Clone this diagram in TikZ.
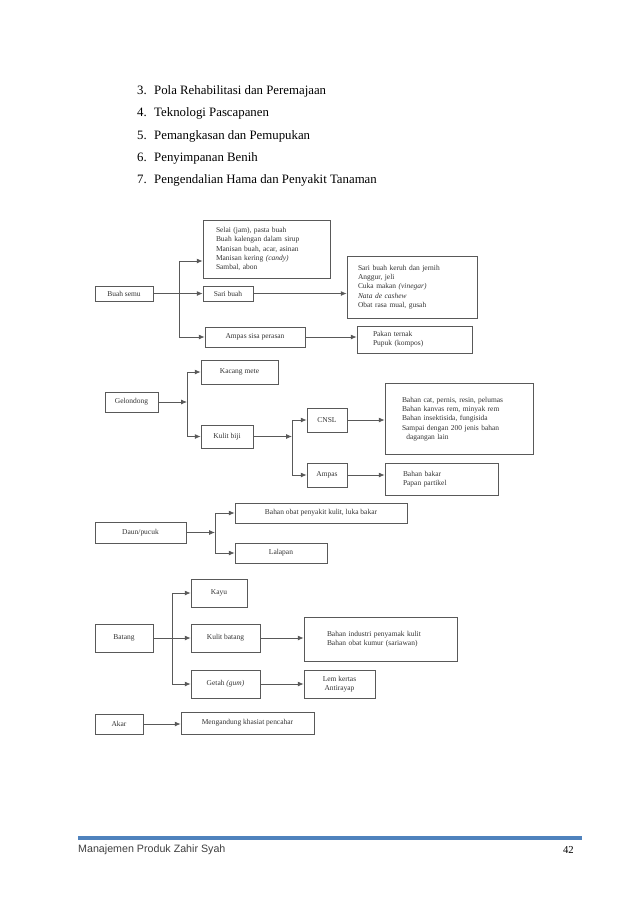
\documentclass[tikz,border=0pt]{standalone}
\usepackage{fontspec}
\setmainfont{Liberation Serif}
\newfontfamily\footfont{Liberation Sans}
\usepackage{tikz}
\usetikzlibrary{arrows.meta, positioning}
\definecolor{boxline}{rgb}{0.35,0.35,0.35}
\definecolor{scantext}{rgb}{0.2,0.2,0.2}
\definecolor{footblue}{rgb}{0.31,0.51,0.74}
\def\pxu{0.032915cm}

\begin{document}
\begin{tikzpicture}[
    x=0.032915cm, y=-0.032915cm,
    box/.style={
        draw=boxline,
        line width=0.7pt,
        fill=white,
        text=scantext,
        inner sep=0pt,
        font=\fontsize{7}{8.7}\selectfont
    },
    sz/.style 2 args={
        minimum width=#1*\pxu,
        minimum height=#2*\pxu,
        align=center
    },
    lbox/.code n args={3}{%
        \pgfmathsetlengthmacro\lboxtw{(#1-2*#3)*\pxu}%
        \pgfmathsetlengthmacro\lboxpad{#3*\pxu}%
        \pgfmathsetlengthmacro\lboxht{#2*\pxu}%
        \tikzset{text width=\lboxtw, inner xsep=\lboxpad, minimum height=\lboxht, align=left}%
    },
    arrow/.style={
        -{Latex[length=5.5pt, width=4.6pt]},
        line width=0.7pt,
        color=boxline
    },
    listtext/.style={
        anchor=base west,
        inner sep=0pt,
        font=\fontsize{12}{14}\selectfont
    }
]

\fill[white] (0,0) rectangle (638,903);
\useasboundingbox (0,0) rectangle (638,903);

% numbered list above the chart
\foreach \n/\t [count=\k from 0] in {3/Pola Rehabilitasi dan Peremajaan,
    4/Teknologi Pascapanen, 5/Pemangkasan dan Pemupukan,
    6/Penyimpanan Benih, 7/Pengendalian Hama dan Penyakit Tanaman} {
    \node[listtext] (num\n)  at (137, 94.5+22.3*\k) {\n.};
    \node[listtext] (item\n) at (154, 94.5+22.3*\k) {\t};
}

% Buah semu
\node[box, sz={58}{15}]      (semu)   at (124,293.5) {Buah semu};
\node[box, lbox={127}{58}{13}] (selai) at (266.5,249)
    {Selai (jam), pasta buah\\Buah kalengan dalam sirup\\Manisan buah, acar, asinan\\Manisan kering \textit{(candy)}\\Sambal, abon};
\node[box, sz={50}{15}]      (sari)   at (228,293.5) {Sari buah};
\node[box, sz={100}{20}]     (ampass) at (255,337)   {Ampas sisa perasan};
\node[box, lbox={130}{62}{11}] (keruh) at (412,287)
    {Sari buah keruh dan jernih\\Anggur, jeli\\Cuka makan \textit{(vinegar)}\\\textit{Nata de cashew}\\Obat rasa mual, gusah};
\node[box, lbox={115}{27}{16}] (pakan) at (414.5,339.5) {Pakan ternak\\Pupuk (kompos)};

\coordinate (jsemu) at (179,293.5);
\draw[arrow] (semu) -- (sari);
\draw[arrow] (jsemu) |- ([yshift=-12*\pxu]selai.west);
\draw[arrow] (jsemu) |- (ampass.west);
\draw[arrow] (sari.east) -- (sari.east -| keruh.west);
\draw[arrow] (ampass.east) -- (ampass.east -| pakan.west);

% Gelondong
\node[box, sz={53}{20}]      (gelon)  at (131.5,402) {Gelondong};
\node[box, sz={77}{24}]      (kacang) at (239.5,372) {Kacang mete};
\node[box, sz={52}{23}]      (kulit)  at (227,436.5) {Kulit biji};
\node[box, sz={40}{24}]      (cnsl)   at (327,420)   {CNSL};
\node[box, sz={40}{24}]      (ampas)  at (327,475)   {Ampas};
\node[box, lbox={148}{71}{17}] (cnslout) at (459,419)
    {Bahan cat, pernis, resin, pelumas\\Bahan kanvas rem, minyak rem\\Bahan insektisida, fungisida\\Sampai dengan 200 jenis bahan\\\hspace*{4pt}dagangan lain};
\node[box, lbox={113}{32}{18}] (bakar) at (441.5,479) {Bahan bakar\\Papan partikel};

\coordinate (jgelon) at (187,402);
\coordinate (jkulit) at (292,436.5);
\draw[arrow] (gelon) -- (jgelon);
\draw[arrow] (jgelon) |- (kacang.west);
\draw[arrow] (jgelon) |- (kulit.west);
\draw[arrow] (kulit) -- (jkulit);
\draw[arrow] (jkulit) |- (cnsl.west);
\draw[arrow] (jkulit) |- (ampas.west);
\draw[arrow] (cnsl) -- (cnsl -| cnslout.west);
\draw[arrow] (ampas) -- (ampas -| bakar.west);

% Daun/pucuk
\node[box, sz={91}{21}]      (daun)  at (140.5,532.5) {Daun/pucuk};
\node[box, sz={172}{20}]     (obat)  at (321,513)     {Bahan obat penyakit kulit, luka bakar};
\node[box, sz={92}{20}]      (lalap) at (281,553)     {Lalapan};

\coordinate (jdaun) at (215,532.5);
\draw[arrow] (daun) -- (jdaun);
\draw[arrow] (jdaun) |- (obat.west);
\draw[arrow] (jdaun) |- (lalap.west);

% Batang
\node[box, sz={58}{28}]      (batang)  at (124,638)   {Batang};
\node[box, sz={56}{28}]      (kayu)    at (219,593)   {Kayu};
\node[box, sz={69}{28}]      (kbatang) at (225.5,638) {Kulit batang};
\node[box, sz={69}{28}]      (getah)   at (225.5,684) {Getah \textit{(gum)}};
\node[box, lbox={153}{44}{23}] (kbout) at (380.5,639)
    {Bahan industri penyamak kulit\\Bahan obat kumur (sariawan)};
\node[box, sz={71}{28}]      (lem)     at (339.5,684) {Lem kertas\\Antirayap};

\coordinate (jbatang) at (172,638);
\draw[arrow] (batang) -- (kbatang);
\draw[arrow] (jbatang) |- (kayu.west);
\draw[arrow] (jbatang) |- (getah.west);
\draw[arrow] (kbatang) -- (kbatang -| kbout.west);
\draw[arrow] (getah) -- (getah -| lem.west);

% Akar
\node[box, sz={48}{20}]      (akar)     at (119,724)   {Akar};
\node[box, sz={133}{22}]     (pencahar) at (247.5,723) {Mengandung khasiat pencahar};
\draw[arrow] (akar) -- (akar -| pencahar.west);

% footer
\draw[footblue, line width=3.5pt] (78,838) -- (582,838);
\node[anchor=base west, inner sep=0pt, text=black!75, font=\footfont\fontsize{10}{12}\selectfont] (footer) at (78,852) {Manajemen Produk Zahir Syah};
\node[anchor=base east, inner sep=0pt, font=\fontsize{10}{12}\selectfont] (pagenum) at (574,853) {42};

\end{tikzpicture}
\end{document}
